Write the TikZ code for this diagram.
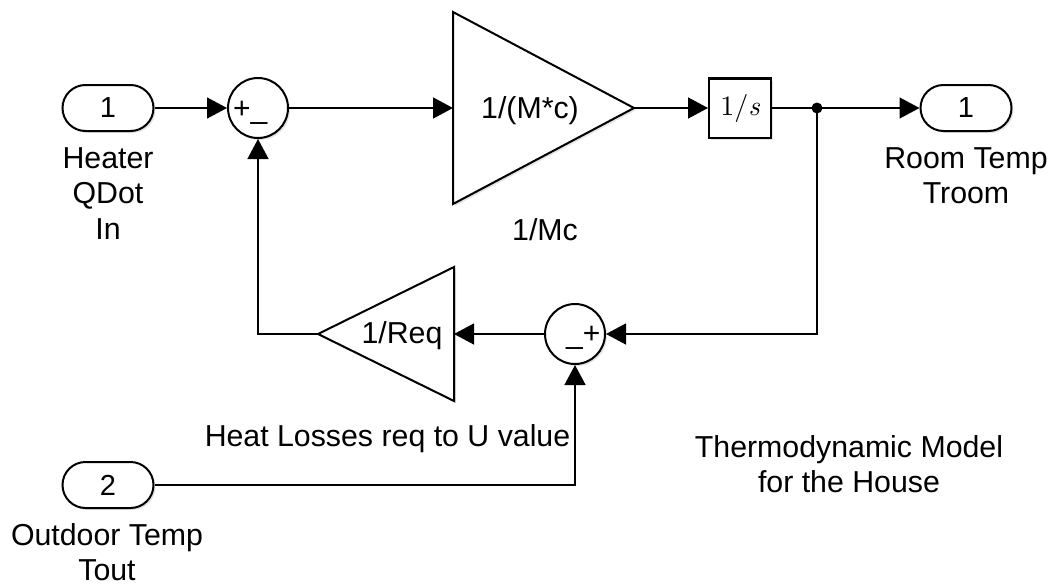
\documentclass[tikz,border=0pt]{standalone}
\usepackage{fontspec}
\setmainfont{Liberation Sans}
\newfontface\lmup{lmroman10-regular.otf}
\newfontface\lmit{lmroman10-italic.otf}
\usetikzlibrary{arrows.meta,shadows}
\begin{document}
\begin{tikzpicture}[x=1pt,y=-1pt,
  blk/.style={draw, line width=2pt, fill=white,
    drop shadow={shadow xshift=2pt,shadow yshift=-2pt,opacity=0.22}},
  port/.style={blk, rounded corners=23pt, minimum width=91pt, minimum height=46pt,
    inner sep=0pt, font=\fontsize{29}{33}\selectfont},
  sumb/.style={blk, circle, minimum size=60pt, inner sep=0pt},
  sig/.style={line width=1.5pt, -{Triangle[length=20pt,width=21pt]}},
  lbl/.style={inner sep=0pt, align=center, font=\fontsize{30.3}{35.5}\selectfont},
  sgn/.style={inner sep=0pt, font=\fontsize{30}{34}\selectfont},
]
\useasboundingbox (0,0) rectangle (1052,586);

% blocks
\node[port] (in1) at (108,108) {1};
\node[port] (in2) at (108,485) {2};
\node[port] (out1) at (966,108) {1};
\node[sumb] (sum1) at (258,108) {};
\node[sumb] (sum2) at (575,334) {};
\node[blk, minimum width=62pt, minimum height=59pt, inner sep=0pt] (int) at (740,108)
  {\fontsize{28}{32}\selectfont{\lmup 1/}{\lmit s}};

% gain 1/(M*c)
\path[blk] (453,12) -- (634,108) -- (453,204) -- cycle;
\coordinate (g1w) at (453,108);
\coordinate (g1e) at (634,108);
\node[lbl, anchor=base] (g1txt) at (530,118) {1/(M*c)};

% gain 1/Req
\path[blk] (454,267) -- (318,334) -- (454,401) -- cycle;
\coordinate (g2e) at (454,334);
\coordinate (g2w) at (318,334);
\node[lbl, anchor=base] (g2txt) at (402,343) {1/Req};

% sum signs
\node[sgn, anchor=base west] (s1sign) at (233,118.5) {+\_};
\node[sgn, anchor=base west] (s2sign) at (566,343.5) {\_+};

% branch point
\coordinate (dot) at (817,108);

% connectors
\draw[sig] (in1.east) -- (sum1.west);
\draw[sig] (sum1.east) -- (g1w);
\draw[sig] (g1e) -- (int.west);
\draw[sig] (int.east) -- (out1.west);
\fill (dot) circle (5.5pt);
\draw[sig] (dot) |- (sum2.east);
\draw[sig] (sum2.west) -- (g2e);
\draw[sig] (g2w) -| (sum1.south);
\draw[sig] (in2.east) -| (sum2.south);

% labels
\node[lbl, anchor=north] (lin1) at (108,147.3) {Heater\\QDot\\In};
\node[lbl, anchor=north] (lout1) at (966,147.3) {Room Temp\\Troom};
\node[lbl, anchor=north] (lin2) at (107,523) {Outdoor Temp\\Tout};
\node[lbl, anchor=base] (lg1) at (545,240) {1/Mc};
\node[lbl, anchor=base] (lg2) at (387.5,446) {Heat Losses req to U value};
\node[lbl, anchor=north] (title) at (849,435.3) {Thermodynamic Model\\for the House};
\end{tikzpicture}
\end{document}
